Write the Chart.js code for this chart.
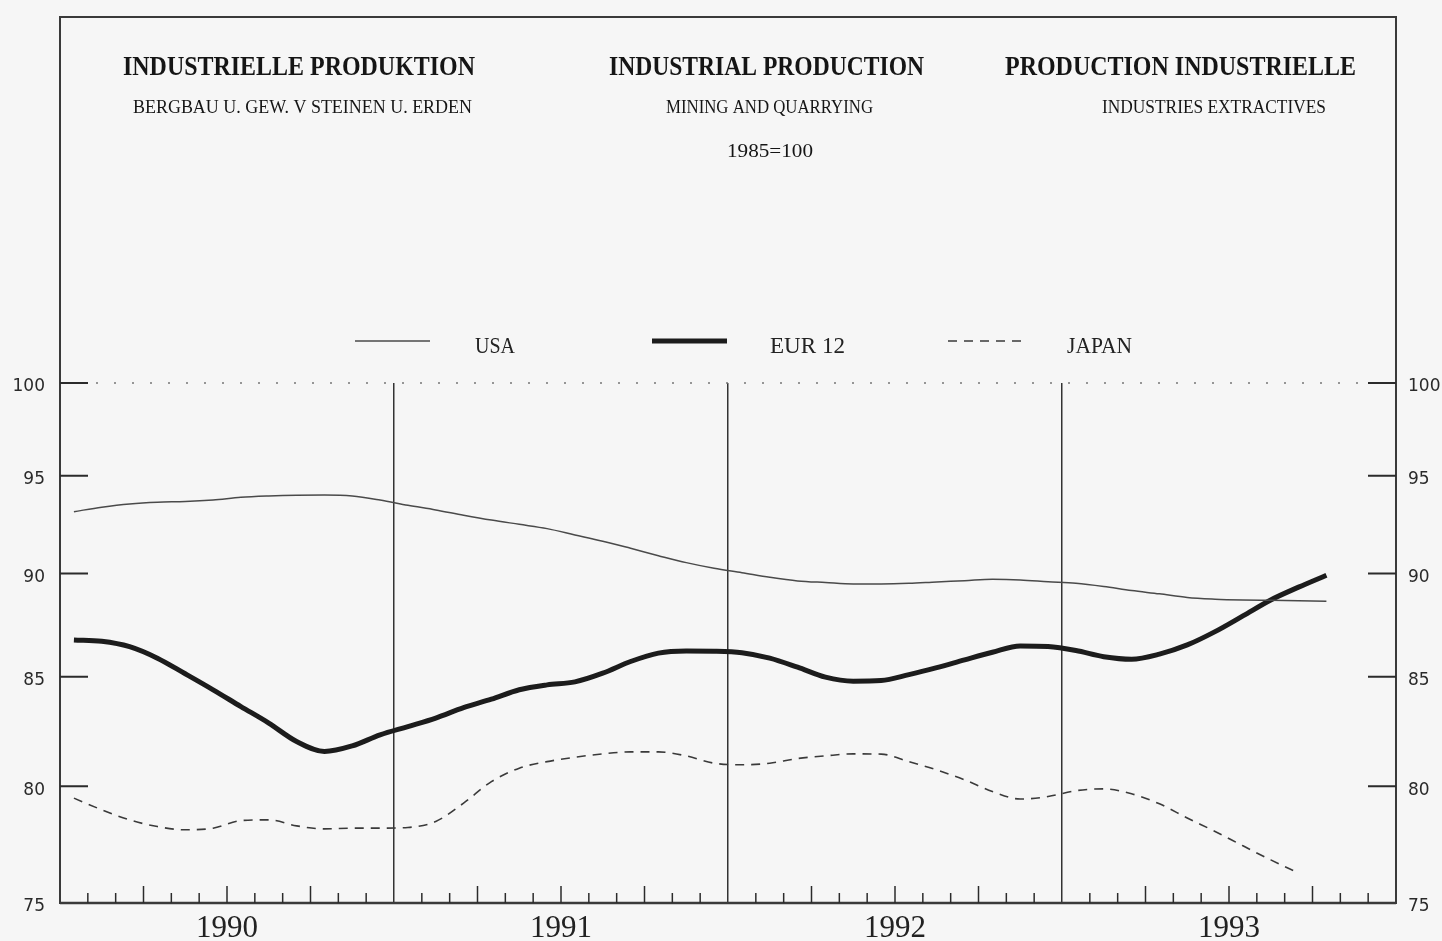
<!DOCTYPE html>
<html>
<head>
<meta charset="utf-8">
<script src="https://cdn.jsdelivr.net/npm/chart.js@4.4.0/dist/chart.umd.min.js"></script>
<style>
  html, body { margin: 0; padding: 0; background: #f6f6f6; }
  canvas { display: block; }
</style>
</head>
<body>
<canvas id="c" width="1442" height="941"></canvas>
<script>
// ---- data (monthly index, 1985 = 100) ----
const years = ['1990', '1991', '1992', '1993'];
const yTicks = [75, 80, 85, 90, 95, 100];

const usa = [
  93.13, 93.36, 93.53, 93.62, 93.65, 93.73, 93.87, 93.94, 93.98, 93.99, 93.94, 93.73,
  93.46, 93.22, 92.95, 92.70, 92.48, 92.26, 91.94, 91.62, 91.26, 90.89, 90.54, 90.26,
  90.04, 89.81, 89.63, 89.55, 89.48, 89.48, 89.51, 89.58, 89.64, 89.71, 89.68, 89.59,
  89.51, 89.35, 89.15, 88.99, 88.81, 88.73, 88.69, 88.67, 88.65, 88.63
];
const eur12 = [
  86.75, 86.69, 86.43, 85.88, 85.14, 84.39, 83.61, 82.85, 82.01, 81.56, 81.81, 82.31,
  82.69, 83.08, 83.56, 83.95, 84.39, 84.62, 84.76, 85.17, 85.72, 86.12, 86.22, 86.21,
  86.14, 85.88, 85.45, 84.98, 84.79, 84.82, 85.10, 85.43, 85.80, 86.16, 86.46, 86.43,
  86.24, 85.95, 85.83, 86.07, 86.51, 87.15, 87.91, 88.69, 89.32, 89.91
];
const japan = [
  79.48, 78.97, 78.53, 78.24, 78.10, 78.17, 78.50, 78.53, 78.27, 78.14, 78.17, 78.17,
  78.20, 78.46, 79.26, 80.21, 80.81, 81.10, 81.30, 81.45, 81.54, 81.54, 81.36, 81.03,
  80.96, 81.03, 81.24, 81.36, 81.45, 81.44, 81.10, 80.73, 80.29, 79.77, 79.44, 79.55,
  79.81, 79.89, 79.67, 79.23, 78.61, 78.03, 77.41, 76.81, 76.25
];
const seriesNames = ['USA', 'EUR 12', 'JAPAN'];

const titles = ['INDUSTRIELLE PRODUKTION', 'INDUSTRIAL PRODUCTION', 'PRODUCTION INDUSTRIELLE'];
const subtitles = ['BERGBAU U. GEW. V STEINEN U. ERDEN', 'MINING AND QUARRYING', 'INDUSTRIES EXTRACTIVES'];
const baseNote = '1985=100';

// month index -> point at middle of the month
const toPoints = arr => arr.map((v, i) => ({ x: i + 0.5, y: v }));

const INK = '#2b2b2b';

function fitText(ctx, text, x, y, width, font, align) {
  ctx.save();
  ctx.font = font;
  ctx.textBaseline = 'middle';
  ctx.textAlign = 'left';
  const w = ctx.measureText(text).width;
  const sx = width / w;
  let x0 = x;
  if (align === 'center') x0 = x - width / 2;
  ctx.translate(x0, y);
  ctx.scale(sx, 1);
  ctx.fillText(text, 0, 0);
  ctx.restore();
}

const decor = {
  id: 'decor',
  beforeDraw(chart) {
    const ctx = chart.ctx;
    ctx.save();
    ctx.fillStyle = '#f6f6f6';
    ctx.fillRect(0, 0, chart.width, chart.height);
    ctx.restore();
  },
  beforeDatasetsDraw(chart) {
    const ctx = chart.ctx;
    const a = chart.chartArea;
    const xs = chart.scales.x, ys = chart.scales.y;
    ctx.save();
    // frame round title block and plot
    ctx.strokeStyle = '#3a3a3a';
    ctx.lineWidth = 2;
    ctx.strokeRect(a.left, 17, a.right - a.left, a.bottom - 17);
    // bottom axis a little heavier
    ctx.lineWidth = 2.5;
    ctx.beginPath();
    ctx.moveTo(a.left, a.bottom);
    ctx.lineTo(a.right, a.bottom);
    ctx.stroke();
    // dotted line at 100
    const y100 = ys.getPixelForValue(100);
    ctx.setLineDash([2, 16]);
    ctx.lineWidth = 1.5;
    ctx.strokeStyle = '#777';
    ctx.beginPath();
    ctx.moveTo(a.left + 36, y100);
    ctx.lineTo(a.right - 34, y100);
    ctx.stroke();
    ctx.setLineDash([]);
    // inward y ticks, both sides
    ctx.strokeStyle = INK;
    ctx.lineWidth = 2;
    yTicks.forEach(v => {
      if (v === 75) return;
      const y = ys.getPixelForValue(v);
      ctx.beginPath();
      ctx.moveTo(a.left, y); ctx.lineTo(a.left + 28, y);
      ctx.moveTo(a.right, y); ctx.lineTo(a.right - 28, y);
      ctx.stroke();
    });
    // month ticks on the time axis
    ctx.lineWidth = 1.5;
    for (let k = 1; k < 48; k++) {
      if (k % 12 === 0) continue;
      const x = xs.getPixelForValue(k);
      const len = (k % 3 === 0) ? 17 : 10;
      ctx.beginPath();
      ctx.moveTo(x, a.bottom);
      ctx.lineTo(x, a.bottom - len);
      ctx.stroke();
    }
    ctx.restore();
  },
  afterDraw(chart) {
    const ctx = chart.ctx;
    ctx.save();
    ctx.fillStyle = '#151515';
    // titles
    const tFont = 'bold 28px "Liberation Serif"';
    fitText(ctx, titles[0], 123, 68, 352, tFont, 'left');
    fitText(ctx, titles[1], 609, 68, 315, tFont, 'left');
    fitText(ctx, titles[2], 1005, 68, 351, tFont, 'left');
    const sFont = '19px "Liberation Serif"';
    fitText(ctx, subtitles[0], 133, 108, 339, sFont, 'left');
    fitText(ctx, subtitles[1], 666, 108, 207, sFont, 'left');
    fitText(ctx, subtitles[2], 1102, 108, 224, sFont, 'left');
    fitText(ctx, baseNote, 727, 152, 86, sFont, 'left');
    // legend, styled from the datasets
    const ds = chart.data.datasets;
    const samples = [[355, 430, 475, 40], [652, 727, 770, 75], [948, 1022, 1067, 65]];
    const lFont = '24px "Liberation Serif"';
    ds.forEach((d, i) => {
      const s = samples[i];
      ctx.save();
      ctx.strokeStyle = d.borderColor;
      ctx.lineWidth = d.borderWidth;
      ctx.setLineDash(d.borderDash || []);
      ctx.beginPath();
      ctx.moveTo(s[0], 341);
      ctx.lineTo(s[1], 341);
      ctx.stroke();
      ctx.restore();
      ctx.fillStyle = '#222';
      fitText(ctx, d.label, s[2], 347, s[3], lFont, 'left');
    });
    ctx.restore();
  }
};

const yAxisBase = {
  type: 'logarithmic',
  min: 75,
  max: 100,
  afterBuildTicks: s => { s.ticks = yTicks.map(v => ({ value: v })); },
  grid: { display: false, drawTicks: false },
  border: { display: false },
  ticks: {
    callback: v => String(v),
    font: { family: 'DejaVu Sans', size: 17 },
    color: '#2a2a2a',
    labelOffset: 4,
    autoSkip: false
  }
};

new Chart(document.getElementById('c'), {
  type: 'line',
  data: {
    datasets: [
      { label: seriesNames[0], data: toPoints(usa), borderColor: '#4a4a4a', borderWidth: 1.5,
        pointRadius: 0, cubicInterpolationMode: 'monotone', fill: false },
      { label: seriesNames[1], data: toPoints(eur12), borderColor: '#1c1c1c', borderWidth: 5,
        pointRadius: 0, cubicInterpolationMode: 'monotone', fill: false },
      { label: seriesNames[2], data: toPoints(japan), borderColor: '#3a3a3a', borderWidth: 1.6,
        borderDash: [9, 7], pointRadius: 0, cubicInterpolationMode: 'monotone', fill: false }
    ]
  },
  options: {
    responsive: false,
    devicePixelRatio: 1,
    animation: false,
    layout: { padding: { top: 383, left: 0, right: 0, bottom: 0 } },
    plugins: { legend: { display: false }, title: { display: false }, tooltip: { enabled: false } },
    scales: {
      x: {
        type: 'linear',
        min: 0,
        max: 48,
        afterBuildTicks: s => {
          const t = [];
          for (let v = 0; v <= 48; v += 6) t.push({ value: v });
          s.ticks = t;
        },
        afterFit: s => { s.height = 38; },
        grid: {
          drawTicks: false,
          lineWidth: 1.5,
          color: c => (c.tick && c.tick.value % 12 === 0 && c.tick.value > 0 && c.tick.value < 48) ? '#333' : 'rgba(0,0,0,0)'
        },
        border: { display: false },
        ticks: {
          callback: v => (v % 12 === 6) ? years[(v - 6) / 12] : '',
          font: { family: 'Liberation Serif', size: 31 },
          color: '#222',
          padding: 7,
          maxRotation: 0,
          autoSkip: false
        }
      },
      y: Object.assign({}, yAxisBase, {
        position: 'left',
        afterFit: s => { s.width = 60; },
        ticks: Object.assign({}, yAxisBase.ticks, { padding: 15 })
      }),
      y2: Object.assign({}, yAxisBase, {
        position: 'right',
        afterFit: s => { s.width = 46; },
        ticks: Object.assign({}, yAxisBase.ticks, { padding: 12 })
      })
    }
  },
  plugins: [decor]
});
</script>
</body>
</html>
